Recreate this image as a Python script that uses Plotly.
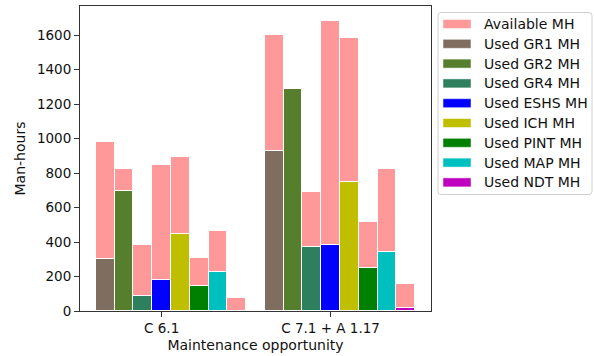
import plotly.graph_objects as go

# Maintenance opportunities (x categories)
opportunities = ["C 6.1", "C 7.1 + A 1.17"]

# Groups of workers, in drawing order
groups = ["GR1", "GR2", "GR4", "ESHS", "ICH", "PINT", "MAP", "NDT"]

# Available man-hours per group, per opportunity
available_c61 = [980, 825, 381, 845, 893, 305, 466, 77]
available_c71 = [1600, 1288, 692, 1685, 1583, 518, 821, 158]

# Used man-hours per group, per opportunity
used_c61 = [300, 698, 89, 178, 444, 147, 228, 0]
used_c71 = [928, 1288, 373, 383, 750, 251, 342, 15]

used_colors = ["#7f6d5f", "#557f2d", "#2d7f5e", "#0000ff",
               "#bfbf00", "#008000", "#00bfbf", "#bf00bf"]
available_color = "#ff9999"

bar_w = 1 / 9
FONT = "DejaVu Sans"

# Plot-area geometry in pixels (used for the hand-drawn legend)
W, H = 594, 356
L, R, T, B = 80, 431, 6, 311


def px_x(p):
    return (p - L) / (R - L)


def px_y(p):
    return (B - p) / (B - T)


fig = go.Figure()

for i, g in enumerate(groups):
    xs = [k + (i - 3) * bar_w for k in range(len(opportunities))]
    fig.add_trace(go.Bar(
        x=xs, y=[available_c61[i], available_c71[i]], width=bar_w,
        marker=dict(color=available_color, line=dict(color="white", width=1)),
        name="Available MH", showlegend=False,
    ))
    fig.add_trace(go.Bar(
        x=xs, y=[used_c61[i], used_c71[i]], width=bar_w,
        marker=dict(color=used_colors[i], line=dict(color="white", width=1)),
        name=f"Used {g} MH", showlegend=False,
    ))

ymax = max(available_c61 + available_c71 + used_c61 + used_c71) * 1.05
xlo = -3.5 * bar_w
xhi = len(opportunities) - 1 + 4.5 * bar_w
pad = (xhi - xlo) * 0.05

axis_common = dict(
    showline=True, linecolor="#333333", linewidth=1, mirror=True,
    ticks="outside", ticklen=5, tickcolor="#333333", showgrid=False,
    zeroline=False, tickfont=dict(family=FONT, size=13.5, color="#111111"),
)

fig.update_layout(
    width=W, height=H,
    margin=dict(l=L, r=W - R, t=T, b=H - B),
    barmode="overlay", bargap=0,
    plot_bgcolor="white", paper_bgcolor="white",
    font=dict(family=FONT, size=14, color="#111111"),
    xaxis=dict(range=[xlo - pad, xhi + pad], tickvals=list(range(len(opportunities))),
               ticktext=opportunities,
               title=dict(text="Maintenance opportunity", standoff=4,
                          font=dict(family=FONT, size=14)),
               **axis_common),
    yaxis=dict(range=[0, ymax], dtick=200,
               title=dict(text="Man-hours", standoff=8,
                          font=dict(family=FONT, size=14)),
               **axis_common),
)

# Legend drawn as shapes and text
leg_x0, leg_x1, leg_y0, leg_y1 = 438, 592, 12.5, 194.5
r = 3
path = (
    f"M {px_x(leg_x0 + r)},{px_y(leg_y0)} L {px_x(leg_x1 - r)},{px_y(leg_y0)} "
    f"Q {px_x(leg_x1)},{px_y(leg_y0)} {px_x(leg_x1)},{px_y(leg_y0 + r)} "
    f"L {px_x(leg_x1)},{px_y(leg_y1 - r)} "
    f"Q {px_x(leg_x1)},{px_y(leg_y1)} {px_x(leg_x1 - r)},{px_y(leg_y1)} "
    f"L {px_x(leg_x0 + r)},{px_y(leg_y1)} "
    f"Q {px_x(leg_x0)},{px_y(leg_y1)} {px_x(leg_x0)},{px_y(leg_y1 - r)} "
    f"L {px_x(leg_x0)},{px_y(leg_y0 + r)} "
    f"Q {px_x(leg_x0)},{px_y(leg_y0)} {px_x(leg_x0 + r)},{px_y(leg_y0)} Z"
)
fig.add_shape(type="path", path=path, xref="paper", yref="paper",
              line=dict(color="#d0d0d0", width=1), fillcolor="white", layer="above")

legend_labels = ["Available MH"] + [f"Used {g} MH" for g in groups]
legend_colors = [available_color] + used_colors
row0, step = 24, 19.8
for j, (lab, col) in enumerate(zip(legend_labels, legend_colors)):
    cy = row0 + j * step
    fig.add_shape(type="rect", xref="paper", yref="paper",
                  x0=px_x(443), x1=px_x(471), y0=px_y(cy - 4.5), y1=px_y(cy + 4.5),
                  fillcolor=col, line=dict(color="white", width=0.5), layer="above")
    fig.add_annotation(x=px_x(482), y=px_y(cy), xref="paper", yref="paper",
                       text=lab, showarrow=False, xanchor="left", yanchor="middle",
                       font=dict(family=FONT, size=14, color="#111111"))

fig.write_html("out.html")
